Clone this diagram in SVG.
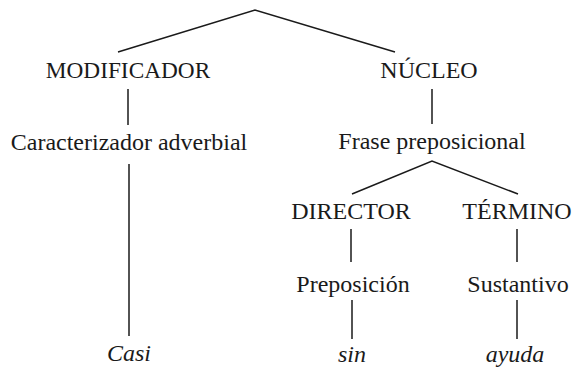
<svg xmlns="http://www.w3.org/2000/svg" width="574" height="368" viewBox="0 0 574 368">
<style>
text{font-family:"Liberation Serif","Times New Roman",serif;font-size:24px;fill:#1a1a1a;text-anchor:middle}
.it{font-style:italic}
#connectors line,#connectors polyline{stroke:#1a1a1a;stroke-width:1.5;fill:none}
</style>
<rect width="574" height="368" fill="#ffffff"/>
<g id="connectors">
<polyline points="118,52 255,10 395,52"/>
<line x1="128" y1="89" x2="128" y2="125"/>
<line x1="129" y1="164" x2="129" y2="336"/>
<line x1="432" y1="89" x2="432" y2="124"/>
<polyline points="352,194 432,161 518,194"/>
<line x1="351" y1="229" x2="351" y2="262"/>
<line x1="517" y1="229" x2="517" y2="262"/>
<line x1="352" y1="300" x2="352" y2="339"/>
<line x1="517" y1="300" x2="517" y2="339"/>
</g>
<g id="modificador"><text x="128" y="78" style="font-size:23.3px">MODIFICADOR</text></g>
<g id="nucleo"><text x="429" y="78">NÚCLEO</text></g>
<g id="caracterizador"><text x="129" y="150">Caracterizador adverbial</text></g>
<g id="frase"><text x="432" y="149">Frase preposicional</text></g>
<g id="director"><text x="351" y="219">DIRECTOR</text></g>
<g id="termino"><text x="517" y="219">TÉRMINO</text></g>
<g id="preposicion"><text x="353" y="292">Preposición</text></g>
<g id="sustantivo"><text x="518" y="292">Sustantivo</text></g>
<g id="casi"><text class="it" x="129" y="361">Casi</text></g>
<g id="sin"><text class="it" x="352" y="362">sin</text></g>
<g id="ayuda"><text class="it" x="515" y="362">ayuda</text></g>
</svg>
